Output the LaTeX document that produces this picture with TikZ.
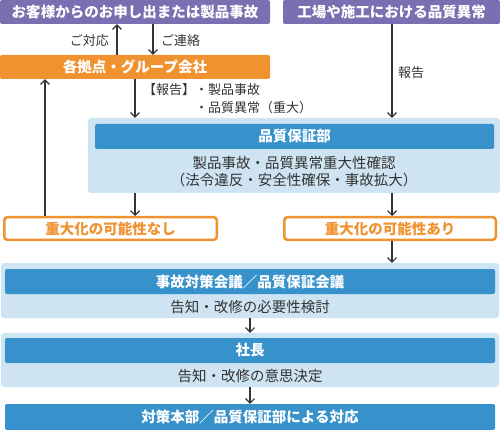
\documentclass[tikz,border=0pt]{standalone}
\usepackage{fontspec}
\setmainfont{Noto Sans CJK JP}
\usetikzlibrary{arrows.meta}
\definecolor{cpurple}{HTML}{7B6EB1}
\definecolor{corange}{HTML}{F0922F}
\definecolor{cblue}{HTML}{3791CB}
\definecolor{clight}{HTML}{CFE4F2}
\definecolor{ctext}{HTML}{333333}
\tikzset{
  purplebox/.style={fill=cpurple, text=white, font=\bfseries\fontsize{14.5}{16}\selectfont, rounded corners=2pt, inner sep=0pt, minimum height=24pt},
  orangebox/.style={fill=corange, text=white, font=\bfseries\fontsize{14.5}{16}\selectfont, rounded corners=2pt, inner sep=0pt, minimum height=24pt},
  outlinebox/.style={draw=corange, line width=2.5pt, fill=white, text=corange, font=\bfseries\fontsize{14.5}{16}\selectfont, rounded corners=3pt, inner sep=0pt, minimum height=22.5pt},
  container/.style={fill=clight, rounded corners=3pt, inner sep=0pt},
  bluebar/.style={fill=cblue, text=white, font=\bfseries\fontsize{14.5}{16}\selectfont, rounded corners=2pt, inner sep=0pt, minimum height=25pt},
  subtext/.style={text=ctext, font=\fontsize{14.5}{16}\selectfont, inner sep=0pt},
  lbl/.style={text=ctext, font=\fontsize{13}{15}\selectfont, inner sep=0pt},
  arr/.style={draw=ctext, line width=1.1pt, -{Straight Barb[length=4.5pt,width=9pt]}}
}
\begin{document}
\begin{tikzpicture}[x=1pt,y=-1pt]
\useasboundingbox (0,0) rectangle (500,430);
% top boxes
\node[purplebox, minimum width=270pt] (cust) at (135,12) {お客様からのお申し出または製品事故};
\node[purplebox, minimum width=217pt] (factory) at (391.5,12) {工場や施工における品質異常};
\node[orangebox, minimum width=270pt] (base) at (135,67) {各拠点・グループ会社};
% quality assurance container
\node[container, minimum width=412pt, minimum height=75pt] (qa) at (294,155.5) {};
\node[bluebar, minimum width=399pt] (qabar) at (294.5,136.5) {品質保証部};
\node[subtext] (qat1) at (294,163) {製品事故・品質異常重大性確認};
\node[subtext] (qat2) at (294,180) {（法令違反・安全性確保・事故拡大）};
% decision boxes
\node[outlinebox, minimum width=212.5pt] (no) at (110.5,228.5) {重大化の可能性なし};
\node[outlinebox, minimum width=211.5pt] (yes) at (390,228.5) {重大化の可能性あり};
% meeting container
\node[container, minimum width=498pt, minimum height=55pt] (meet) at (250,290.5) {};
\node[bluebar, minimum width=490pt] (meetbar) at (250,281.5) {事故対策会議／品質保証会議};
\node[subtext] (meett) at (250,307) {告知・改修の必要性検討};
% president container
\node[container, minimum width=498pt, minimum height=54pt] (pres) at (250,360) {};
\node[bluebar, minimum width=490pt] (presbar) at (250,350.5) {社長};
\node[subtext] (prest) at (250,376) {告知・改修の意思決定};
% final
\node[bluebar, minimum width=490pt, minimum height=26pt] (final) at (250,417) {対策本部／品質保証部による対応};
% coordinates for columns
\coordinate (colL) at (45,0);
\coordinate (colR) at (392,0);
% connectors
\draw[arr] ([xshift=-18pt]base.north) -- ([xshift=-18pt]cust.south);
\draw[arr] ([xshift=18pt]cust.south) -- ([xshift=18pt]base.north);
\node[lbl, anchor=east] (l1) at (109,41) {ご対応};
\node[lbl, anchor=west] (l2) at (161,41) {ご連絡};
\draw[arr] (factory.south -| colR) -- (qa.north -| colR);
\node[lbl, anchor=west] (l3) at (398,73) {報告};
\draw[arr] (base.south) -- (base.south |- qa.north);
\node[lbl, anchor=west] (l4) at (143,90) {【報告】・製品事故};
\node[lbl, anchor=west] (l5) at (195,108) {・品質異常（重大）};
\draw[arr] (qa.south -| base.south) -- (no.north -| base.south);
\draw[arr] (qa.south -| colR) -- (yes.north -| colR);
\draw[arr] (no.north -| colL) -- (base.south -| colL);
\draw[arr] (yes.south -| colR) -- (meet.north -| colR);
\draw[arr] (meet.south) -- (pres.north);
\draw[arr] (pres.south) -- (final.north);
\end{tikzpicture}
\end{document}
